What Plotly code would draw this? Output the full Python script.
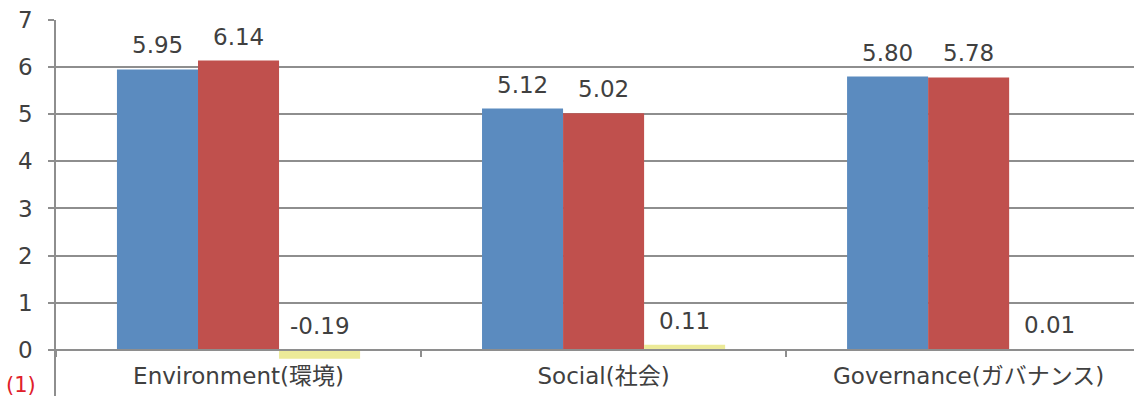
import plotly.graph_objects as go

# Category labels and the three series drawn per category
categories = ["Environment(環境)", "Social(社会)", "Governance(ガバナンス)"]
series_a = [5.95, 5.12, 5.80]
series_b = [6.14, 5.02, 5.78]
series_diff = [-0.19, 0.11, 0.01]
y_ticks = [0, 1, 2, 3, 4, 5, 6, 7]

colors = ["#5B8BBF", "#C0504D", "#ECEA98"]
text_color = "#404040"
grid_color = "#8E8E8E"
font_family = "DejaVu Sans, Noto Sans CJK JP, sans-serif"

bargap = 0.334
y_min, y_max = -0.98, 7

fig = go.Figure()
all_series = [series_a, series_b, series_diff]
for vals, col in zip(all_series, colors):
    fig.add_trace(go.Bar(x=categories, y=vals, marker=dict(color=col, line=dict(width=0)),
                         showlegend=False, hoverinfo="skip"))

# Value labels above each bar (bars are grouped, so offset from the category centre)
bar_w = (1 - bargap) / len(all_series)
annotations = []
for k, vals in enumerate(all_series):
    for i, v in enumerate(vals):
        annotations.append(dict(
            x=i + (k - (len(all_series) - 1) / 2) * bar_w, xref="x",
            y=max(v, 0), yref="y", yanchor="bottom", yshift=9,
            text=f"{v:.2f}", showarrow=False,
            font=dict(size=23, color=text_color, family=font_family)))

annotations.append(dict(x=0, xref="paper", xanchor="right", xshift=-18,
                        y=0, yref="paper", yanchor="bottom", yshift=-3,
                        text="(1)", showarrow=False,
                        font=dict(size=21, color="#E0202A", family=font_family)))

# Category axis sits on the zero line
x_pos = (0 - y_min) / (y_max - y_min)

fig.update_layout(
    width=1134, height=396,
    margin=dict(l=56, r=0, t=20, b=0),
    paper_bgcolor="white", plot_bgcolor="white",
    barmode="group", bargap=bargap, bargroupgap=0,
    font=dict(family=font_family, color=text_color),
    annotations=annotations,
    xaxis=dict(type="category", categoryorder="array", categoryarray=categories,
               range=[-0.5, 2.453], anchor="free", position=x_pos,
               showline=True, linecolor=grid_color, linewidth=1.5,
               ticks="outside", tickson="boundaries", ticklen=6, tickcolor=grid_color,
               tickwidth=1.5, showgrid=False, ticklabelstandoff=6,
               tickfont=dict(size=23, color=text_color, family=font_family)),
    yaxis=dict(range=[y_min, y_max], tickvals=y_ticks, showgrid=True,
               gridcolor=grid_color, gridwidth=1.5, zeroline=False,
               showline=True, linecolor=grid_color, linewidth=1.5,
               ticks="outside", ticklen=6, tickcolor=grid_color, tickwidth=1.5,
               ticklabelstandoff=11,
               tickfont=dict(size=23, color=text_color, family=font_family)),
)

fig.write_html("out.html")
